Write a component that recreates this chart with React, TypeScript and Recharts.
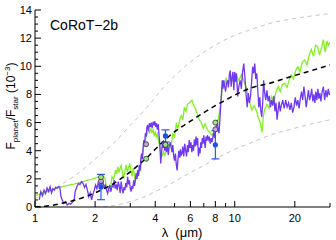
import { ComposedChart, Line, Scatter, XAxis, YAxis, ErrorBar } from 'recharts';

const FONT = '"Liberation Sans", Arial, Helvetica, sans-serif';

// wavelength (micron), flux ratio (1e-3)
const GREEN_MODEL: [number, number][] = [
  [1.0, 0.8], [1.05, 0.9], [1.1, 1.02], [1.15, 1.1], [1.2, 1.22], [1.25, 1.28], [1.3, 1.38],
  [1.35, 1.42], [1.4, 1.48], [1.45, 1.52], [1.5, 1.58], [1.55, 1.6], [1.6, 1.68], [1.65, 1.7],
  [1.7, 1.78], [1.75, 1.82], [1.8, 1.86], [1.85, 1.92], [1.9, 1.95], [1.95, 2.0], [2.0, 2.05],
  [2.05, 2.1], [2.1, 2.15], [2.15, 2.22], [2.2, 2.2], [2.24, 2.05], [2.27, 1.55], [2.3, 1.45],
  [2.33, 1.2], [2.37, 1.09], [2.4, 1.6], [2.43, 2.15], [2.47, 2.0], [2.5, 2.2], [2.53, 2.63],
  [2.56, 2.35], [2.6, 2.86], [2.63, 2.45], [2.66, 2.7], [2.7, 2.95], [2.74, 2.4], [2.78, 2.04],
  [2.82, 2.55], [2.86, 3.0], [2.9, 2.5], [2.94, 2.8], [2.98, 3.1], [3.02, 2.6], [3.06, 2.2],
  [3.1, 2.75], [3.14, 2.35], [3.18, 1.8], [3.22, 2.1], [3.26, 2.55], [3.3, 2.3], [3.34, 2.7],
  [3.38, 2.6], [3.42, 3.34], [3.46, 3.8], [3.5, 4.3], [3.55, 4.7], [3.6, 5.0], [3.65, 5.2],
  [3.7, 5.47], [3.75, 5.3], [3.8, 5.55], [3.85, 5.3], [3.9, 5.5], [3.95, 5.1], [4.0, 5.3],
  [4.05, 5.0], [4.1, 5.2], [4.15, 4.76], [4.2, 4.4], [4.25, 3.93], [4.3, 3.57], [4.35, 3.7],
  [4.4, 3.93], [4.45, 3.7], [4.5, 3.8], [4.6, 4.1], [4.7, 4.5], [4.8, 4.3], [4.9, 5.2],
  [5.0, 5.0], [5.1, 5.9], [5.2, 5.6], [5.3, 6.2], [5.4, 6.5], [5.5, 6.2], [5.6, 7.1],
  [5.7, 6.8], [5.8, 7.3], [5.95, 7.4], [6.1, 7.6], [6.2, 7.3], [6.35, 7.0], [6.5, 6.6],
  [6.65, 6.2], [6.8, 6.0], [6.95, 5.6], [7.1, 5.9], [7.3, 5.5], [7.5, 5.3], [7.7, 5.1],
  [7.9, 5.4], [8.1, 5.8], [8.3, 6.3], [8.45, 7.1], [8.6, 8.0], [8.75, 9.0], [8.9, 8.7],
  [9.05, 9.15], [9.3, 8.8], [9.6, 9.15], [9.9, 8.9], [10.2, 9.3], [10.5, 9.0], [10.8, 9.4],
  [11.1, 9.0], [11.4, 8.55], [11.7, 7.8], [11.9, 7.4], [12.2, 6.9], [12.5, 7.2], [12.8, 6.9],
  [13.1, 6.4], [13.4, 6.0], [13.7, 5.3], [13.9, 6.4], [14.1, 6.9], [14.5, 7.3], [14.9, 7.0],
  [15.3, 7.85], [15.7, 7.5], [16.1, 8.2], [16.5, 8.55], [16.9, 8.2], [17.3, 8.7], [17.8, 8.8],
  [18.3, 8.5], [18.8, 9.1], [19.2, 9.4], [19.7, 9.1], [20.2, 9.7], [20.7, 9.97], [21.2, 9.6],
  [21.8, 10.3], [22.4, 10.45], [23.0, 10.1], [23.6, 10.8], [24.2, 11.2], [24.8, 10.7],
  [25.4, 11.5], [26.0, 11.4], [26.6, 10.8], [27.2, 11.3], [27.8, 11.9], [28.4, 11.0],
  [29.0, 11.8], [29.5, 11.5], [30.0, 11.7],
];

const PURPLE_MODEL: [number, number][] = [
  [1.05, 0.5], [1.07, 1.09], [1.09, 0.8], [1.11, 1.2], [1.13, 0.95], [1.15, 1.35], [1.17, 1.1],
  [1.19, 1.44], [1.21, 1.0], [1.23, 1.3], [1.25, 1.2], [1.27, 1.4], [1.29, 1.33], [1.31, 1.45],
  [1.33, 1.44], [1.35, 0.73], [1.37, 0.5], [1.39, 0.26], [1.42, 0.38], [1.45, 0.14], [1.48, 0.26],
  [1.51, 0.2], [1.54, 0.35], [1.57, 0.5], [1.59, 1.1], [1.62, 1.44], [1.65, 1.68], [1.68, 1.6],
  [1.71, 1.8], [1.74, 1.68], [1.77, 1.4], [1.8, 1.6], [1.83, 1.2], [1.86, 0.73], [1.89, 1.0],
  [1.92, 0.5], [1.95, 0.9], [1.98, 1.2], [2.01, 1.56], [2.04, 1.3], [2.07, 1.7], [2.1, 1.5],
  [2.13, 1.85], [2.16, 1.6], [2.19, 1.75], [2.22, 1.4], [2.25, 1.56], [2.28, 1.2], [2.31, 0.97],
  [2.34, 1.3], [2.37, 1.56], [2.4, 1.1], [2.43, 1.5], [2.46, 1.44], [2.49, 1.92], [2.52, 1.3],
  [2.55, 1.6], [2.58, 1.2], [2.61, 1.8], [2.64, 1.5], [2.67, 1.0], [2.7, 1.8], [2.73, 1.3],
  [2.76, 0.97], [2.79, 1.4], [2.82, 1.2], [2.85, 1.7], [2.88, 1.4], [2.91, 2.15], [2.94, 1.6],
  [2.97, 1.9], [3.0, 1.3], [3.03, 1.1], [3.06, 1.5], [3.09, 1.3], [3.12, 1.9], [3.15, 1.5],
  [3.18, 1.92], [3.21, 2.4], [3.24, 2.0], [3.27, 2.63], [3.3, 2.2], [3.33, 3.0], [3.36, 2.6],
  [3.39, 3.5], [3.42, 3.8], [3.45, 3.4], [3.48, 4.3], [3.51, 4.76], [3.54, 4.5], [3.57, 5.24],
  [3.6, 5.0], [3.63, 5.6], [3.66, 5.83], [3.7, 5.4], [3.74, 5.95], [3.78, 5.7], [3.82, 6.0],
  [3.86, 5.6], [3.9, 6.06], [3.94, 5.8], [3.98, 6.1], [4.02, 5.7], [4.06, 5.95], [4.1, 5.5],
  [4.14, 5.9], [4.18, 5.1], [4.22, 4.4], [4.26, 3.1], [4.3, 3.8], [4.34, 4.5], [4.38, 4.2],
  [4.42, 4.6], [4.46, 4.0], [4.5, 4.3], [4.55, 3.9], [4.6, 4.4], [4.65, 3.7], [4.7, 4.3],
  [4.75, 4.6], [4.8, 4.3], [4.85, 3.9], [4.9, 4.4], [4.95, 3.6], [5.0, 3.3], [5.05, 3.8],
  [5.1, 3.0], [5.15, 2.6], [5.2, 3.4], [5.25, 4.0], [5.3, 3.5], [5.35, 4.1], [5.4, 3.7],
  [5.45, 3.8], [5.5, 4.3], [5.56, 3.6], [5.62, 4.5], [5.68, 4.0], [5.74, 3.6], [5.8, 4.4],
  [5.86, 3.9], [5.92, 4.76], [5.98, 4.2], [6.04, 4.6], [6.1, 3.9], [6.16, 4.4], [6.22, 4.0],
  [6.28, 4.8], [6.34, 4.3], [6.4, 5.0], [6.46, 4.4], [6.52, 4.9], [6.58, 3.6], [6.64, 4.2],
  [6.7, 3.8], [6.76, 4.6], [6.82, 4.2], [6.88, 4.9], [6.94, 4.5], [7.0, 5.1], [7.06, 4.6],
  [7.12, 4.2], [7.18, 5.0], [7.24, 4.7], [7.3, 5.1], [7.38, 4.8], [7.46, 5.0], [7.54, 4.5],
  [7.62, 4.9], [7.7, 4.6], [7.78, 5.0], [7.86, 5.3], [7.94, 4.9], [8.02, 5.5], [8.1, 5.8],
  [8.18, 6.2], [8.26, 5.5], [8.34, 5.24], [8.42, 6.1], [8.5, 7.1], [8.58, 8.0], [8.66, 9.0],
  [8.74, 8.4], [8.82, 9.0], [8.9, 8.6], [9.0, 8.2], [9.1, 8.8], [9.2, 9.0], [9.3, 8.5],
  [9.4, 9.4], [9.5, 9.7], [9.6, 8.55], [9.7, 9.2], [9.8, 9.6], [9.9, 8.3], [10.0, 9.6],
  [10.1, 8.9], [10.2, 9.5], [10.35, 7.85], [10.5, 8.6], [10.65, 9.0], [10.8, 8.4], [10.95, 9.6],
  [11.1, 10.2], [11.25, 9.2], [11.4, 8.0], [11.55, 7.1], [11.7, 8.1], [11.85, 7.4], [12.0, 7.9],
  [12.15, 8.9], [12.3, 9.97], [12.45, 9.5], [12.6, 10.2], [12.75, 9.1], [12.9, 9.5], [13.05, 8.3],
  [13.2, 7.1], [13.35, 7.8], [13.5, 6.9], [13.65, 6.4], [13.8, 7.3], [13.95, 9.0], [14.1, 8.2],
  [14.3, 7.6], [14.5, 8.3], [14.7, 7.5], [14.9, 7.9], [15.1, 7.1], [15.3, 7.6], [15.5, 7.2],
  [15.7, 7.9], [15.9, 6.8], [16.1, 7.4], [16.3, 6.2], [16.5, 6.9], [16.7, 7.5], [16.9, 6.8],
  [17.1, 7.2], [17.4, 7.6], [17.7, 7.0], [18.0, 7.6], [18.3, 7.1], [18.6, 7.4], [18.9, 6.9],
  [19.2, 7.4], [19.5, 6.7], [19.8, 7.1], [20.1, 7.8], [20.4, 7.2], [20.7, 7.6], [21.0, 7.0],
  [21.3, 7.7], [21.6, 8.2], [21.9, 7.6], [22.2, 8.55], [22.5, 7.9], [22.8, 7.1], [23.1, 7.7],
  [23.4, 8.3], [23.7, 7.6], [24.0, 7.9], [24.3, 8.4], [24.6, 7.5], [24.9, 8.0], [25.2, 7.4],
  [25.5, 8.2], [25.8, 7.6], [26.1, 8.4], [26.4, 7.7], [26.7, 8.1], [27.0, 7.5], [27.4, 8.2],
  [27.8, 8.55], [28.2, 7.6], [28.6, 8.3], [29.0, 7.8], [29.4, 8.4], [29.8, 7.96], [30.0, 8.1],
];

const BLACKBODY: [number, number][] = [
  [1.0, 0.0], [1.2, 0.1], [1.4, 0.3], [1.6, 0.5], [1.8, 0.75], [2.0, 1.0], [2.25, 1.35],
  [2.5, 1.7], [2.75, 2.1], [3.0, 2.5], [3.25, 2.9], [3.5, 3.3], [3.75, 3.7], [4.0, 4.1],
  [4.5, 4.8], [5.0, 5.35], [5.5, 5.75], [6.0, 6.1], [7.0, 6.7], [8.0, 7.2], [9.0, 7.6],
  [10.0, 7.95], [12.0, 8.45], [15.0, 8.8], [20.0, 9.35], [25.0, 9.75], [30.0, 10.1],
];

const UPPER_BOUND: [number, number][] = [
  [1.0, 0.6], [1.25, 1.3], [1.5, 2.0], [1.75, 2.7], [2.0, 3.4], [2.5, 4.6], [3.0, 5.8],
  [3.5, 6.8], [4.0, 7.8], [4.4, 8.5], [5.0, 9.3], [6.0, 10.3], [7.0, 11.0], [8.0, 11.5],
  [10.0, 12.2], [12.0, 12.6], [15.0, 13.05], [20.0, 13.4], [25.0, 13.6], [30.0, 13.75],
];

const LOWER_BOUND: [number, number][] = [
  [2.0, 0.0], [2.5, 0.12], [3.0, 0.38], [3.5, 0.7], [4.0, 1.1], [4.5, 1.45], [5.0, 1.8],
  [6.0, 2.45], [7.0, 2.95], [8.0, 3.4], [10.0, 4.1], [12.0, 4.55], [15.0, 5.1], [20.0, 5.6],
  [25.0, 5.95], [30.0, 6.2],
];

// observed eclipse depths [lambda, depth, error]
const OBSERVED: [number, number, number][] = [
  [2.14, 1.42, 0.9], [4.5, 5.05, 0.43], [8.0, 4.42, 1.0],
];
// band-averaged model points
const PURPLE_BANDS: [number, number][] = [[2.14, 1.85], [3.6, 4.46], [4.5, 4.46], [8.0, 5.52]];
const GREEN_BANDS: [number, number][] = [[2.14, 2.12], [3.6, 3.43], [4.5, 4.42], [8.0, 6.0]];

const X_TICKS = [1, 2, 3, 4, 5, 6, 7, 8, 9, 10, 20, 30];
const X_LABELS = [1, 2, 4, 6, 8, 10, 20];
const Y_TICKS = [0, 0.5, 1, 1.5, 2, 2.5, 3, 3.5, 4, 4.5, 5, 5.5, 6, 6.5, 7, 7.5, 8, 8.5, 9, 9.5, 10,
  10.5, 11, 11.5, 12, 12.5, 13, 13.5, 14];
const Y_LABELS = [0, 2, 4, 6, 8, 10, 12, 14];

const pts = (a: [number, number][]) => a.map(([x, f]) => ({ x, f }));

const BottomTick = ({ x, y, payload }: any) => {
  const lab = X_LABELS.includes(payload.value);
  const ay = y - 15;
  return (
    <g>
      <line x1={x} x2={x} y1={ay} y2={ay - (lab ? 6 : 4)} stroke="#000" />
      {lab && (
        <text x={x} y={y} textAnchor="middle" fontSize={11} fontFamily={FONT} fill="#000">
          {payload.value}
        </text>
      )}
    </g>
  );
};

const TopTick = ({ x, y, payload }: any) => {
  const lab = X_LABELS.includes(payload.value);
  return <line x1={x} x2={x} y1={y} y2={y + (lab ? 6 : 4)} stroke="#000" />;
};

const LeftTick = ({ x, y, payload }: any) => {
  const lab = Y_LABELS.includes(payload.value);
  const ax = x + 3;
  return (
    <g>
      <line x1={ax} x2={ax + (lab ? 6 : 3)} y1={y} y2={y} stroke="#000" />
      {lab && (
        <text x={x} y={y + 4} textAnchor="end" fontSize={11} fontFamily={FONT} fill="#000">
          {payload.value}
        </text>
      )}
    </g>
  );
};

const RightTick = ({ x, y, payload }: any) => {
  const lab = Y_LABELS.includes(payload.value);
  return <line x1={x} x2={x - (lab ? 6 : 3)} y1={y} y2={y} stroke="#000" />;
};

const dot = (fill: string) => (p: any) => (
  <circle cx={p.cx} cy={p.cy} r={2.5} fill={fill} stroke="#333" strokeWidth={0.8} />
);

export default function App() {
  const obs = OBSERVED.map(([x, f, e]) => ({ x, f, e }));
  return (
    <div style={{ position: 'absolute', left: 0, top: 0, width: 336, height: 240, background: '#fff' }}>
      <ComposedChart width={336} height={240} margin={{ top: 10, right: 6, bottom: 0, left: 0 }}>
        <XAxis
          dataKey="x"
          type="number"
          scale="log"
          domain={[1, 30]}
          allowDataOverflow
          ticks={X_TICKS}
          interval={0}
          height={33}
          tickSize={0}
          tickMargin={15}
          tickLine={false}
          tick={<BottomTick />}
          axisLine={{ stroke: '#000' }}
        />
        <XAxis
          xAxisId="top"
          orientation="top"
          dataKey="x"
          type="number"
          scale="log"
          domain={[1, 30]}
          allowDataOverflow
          ticks={X_TICKS}
          interval={0}
          height={0}
          tickSize={0}
          tickMargin={0}
          tickLine={false}
          tick={<TopTick />}
          axisLine={{ stroke: '#000' }}
        />
        <YAxis
          type="number"
          domain={[0, 14]}
          allowDataOverflow
          ticks={Y_TICKS}
          interval={0}
          width={35}
          tickSize={0}
          tickMargin={3}
          tickLine={false}
          tick={<LeftTick />}
          axisLine={{ stroke: '#000' }}
        />
        <YAxis
          yAxisId="right"
          orientation="right"
          type="number"
          domain={[0, 14]}
          allowDataOverflow
          ticks={Y_TICKS}
          interval={0}
          width={0}
          tickSize={0}
          tickMargin={0}
          tickLine={false}
          tick={<RightTick />}
          axisLine={{ stroke: '#000' }}
        />
        <Line data={pts(UPPER_BOUND)} dataKey="f" type="monotone" stroke="#c4c4c4" strokeWidth={1}
          strokeDasharray="4 4" dot={false} isAnimationActive={false} />
        <Line data={pts(LOWER_BOUND)} dataKey="f" type="monotone" stroke="#c4c4c4" strokeWidth={1}
          strokeDasharray="4 4" dot={false} isAnimationActive={false} />
        <Line data={pts(GREEN_MODEL)} dataKey="f" type="linear" stroke="#80f020" strokeWidth={1.3}
          dot={false} isAnimationActive={false} />
        <Line data={pts(PURPLE_MODEL)} dataKey="f" type="linear" stroke="#7038f0" strokeWidth={1.3}
          dot={false} isAnimationActive={false} />
        <Line data={pts(BLACKBODY)} dataKey="f" type="monotone" stroke="#000" strokeWidth={1.5}
          strokeDasharray="5 4" dot={false} isAnimationActive={false} />
        <Scatter data={obs} dataKey="f" isAnimationActive={false}
          shape={(p: any) => <circle cx={p.cx} cy={p.cy} r={2.6} fill="#1f4fe8" />}>
          <ErrorBar dataKey="e" direction="y" width={4} stroke="#2a5ae8" strokeWidth={1.2} />
        </Scatter>
        <Scatter data={pts(PURPLE_BANDS)} dataKey="f" isAnimationActive={false} shape={dot('#c8a4dc')} />
        <Scatter data={pts(GREEN_BANDS)} dataKey="f" isAnimationActive={false} shape={dot('#98e888')} />
      </ComposedChart>
      <div style={{ position: 'absolute', left: 50, top: 17, fontSize: 14, fontFamily: FONT, color: '#000' }}>
        CoRoT−2b
      </div>
      <div
        style={{
          position: 'absolute', left: 12, top: 106, transform: 'translate(-50%, -50%) rotate(-90deg)',
          whiteSpace: 'nowrap', fontSize: 12, fontFamily: FONT, color: '#000', lineHeight: '14px',
        }}
      >
        F<sub style={{ fontSize: 8 }}>planet</sub>/F<sub style={{ fontSize: 8 }}>star</sub>{'  '}(10
        <sup style={{ fontSize: 8 }}>−3</sup>)
      </div>
      <div
        style={{
          position: 'absolute', left: 182, top: 225, transform: 'translateX(-50%)',
          whiteSpace: 'pre', fontSize: 13, fontFamily: FONT, color: '#000',
        }}
      >
        λ  (μm)
      </div>
    </div>
  );
}
